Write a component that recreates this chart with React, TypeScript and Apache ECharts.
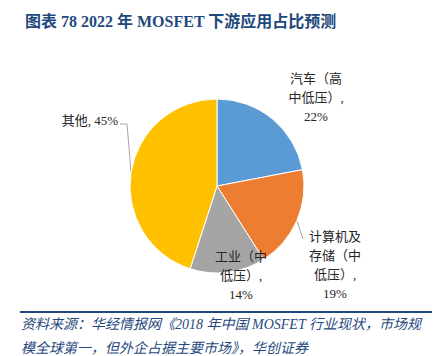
import React, { useEffect, useRef } from "react";
import * as echarts from "echarts";

const TITLE = "图表 78 2022 年 MOSFET 下游应用占比预测";
const SOURCE_LINES = [
  "资料来源：华经情报网《2018 年中国 MOSFET 行业现状，市场规",
  "模全球第一，但外企占据主要市场》，华创证券",
];
const categories = ["汽车（高中低压）", "计算机及存储（中低压）", "工业（中低压）", "其他"];
const shares = [22, 19, 14, 45];
const colors = ["#5B9BD5", "#ED7D31", "#A5A5A5", "#FFC000"];

const W = 447;
const H = 356;
const CX = 217;
const CY = 186;
const R = 87;

// label placement relative to pie centre
const LABEL_SPOTS = [
  { dx: 99, dy: -89, align: "center", line: null },
  { dx: 118, dy: 79, align: "center", line: [[86, 53], [86, 53]] },
  { dx: 24, dy: 89, align: "center", line: null },
  { dx: -99, dy: -66, align: "right", line: [[-90, -62], [-97, -62]] },
];

const SERIF = "'Times New Roman', 'Liberation Serif', 'Noto Sans CJK SC', serif";
const NAVY = "#1F497D";

function formatLabel(name: string, pct: number) {
  if (name.length <= 2) return `${name}, ${pct}%`;
  const chunks = name.match(/.{1,4}/g) || [name];
  chunks[chunks.length - 1] += ",";
  return [...chunks, `${pct}%`].join("\n");
}

export default function App() {
  const ref = useRef<HTMLDivElement>(null);
  useEffect(() => {
    if (!ref.current) return;
    const chart = echarts.init(ref.current, null, { renderer: "svg" });
    const total = shares.reduce((a, b) => a + b, 0);
    const midPoints: number[][] = [];
    let cum = 0;
    shares.forEach((v) => {
      const mid = ((cum + v / 2) / total) * Math.PI * 2;
      midPoints.push([CX + R * Math.sin(mid), CY - R * Math.cos(mid)]);
      cum += v;
    });
    chart.setOption({
      animation: false,
      backgroundColor: "#ffffff",
      title: {
        text: TITLE,
        left: 20,
        top: 8,
        textStyle: {
          fontFamily: SERIF,
          fontSize: 16,
          fontWeight: "bold",
          color: NAVY,
        },
      },
      graphic: [
        {
          type: "line",
          shape: { x1: 20, y1: 312, x2: 432, y2: 312 },
          style: { stroke: NAVY, lineWidth: 2 },
        },
        ...SOURCE_LINES.map((t, i) => ({
          type: "text",
          left: 21,
          top: 317 + i * 24,
          style: {
            text: t,
            fontFamily: SERIF,
            fontSize: 14,
            fontStyle: "italic",
            fill: NAVY,
          },
        })),
      ],
      series: [
        {
          type: "pie",
          center: [CX, CY],
          radius: [0, R],
          startAngle: 90,
          clockwise: true,
          itemStyle: { borderColor: "#ffffff", borderWidth: 1 },
          label: {
            show: true,
            position: "outside",
            formatter: (p: any) => formatLabel(p.name, p.value),
            fontFamily: SERIF,
            fontSize: 13,
            lineHeight: 19,
            color: "#262626",
            align: "center",
          },
          labelLine: {
            show: true,
            lineStyle: { color: "#A6A6A6", width: 1 },
          },
          labelLayout: (params: any) => {
            const i = params.dataIndex;
            const s = LABEL_SPOTS[i];
            const out: any = {
              x: CX + s.dx,
              y: CY + s.dy,
              align: s.align,
              verticalAlign: "middle",
            };
            if (s.line) {
              out.labelLinePoints = [
                midPoints[i],
                [CX + s.line[0][0], CY + s.line[0][1]],
                [CX + s.line[1][0], CY + s.line[1][1]],
              ];
            }
            return out;
          },
          data: categories.map((name, i) => ({
            name,
            value: shares[i],
            itemStyle: { color: colors[i] },
            labelLine: { show: !!LABEL_SPOTS[i].line },
          })),
        },
      ],
    });
    return () => chart.dispose();
  }, []);
  return (
    <div
      ref={ref}
      style={{ position: "fixed", left: 0, top: 0, width: W, height: H }}
    />
  );
}
